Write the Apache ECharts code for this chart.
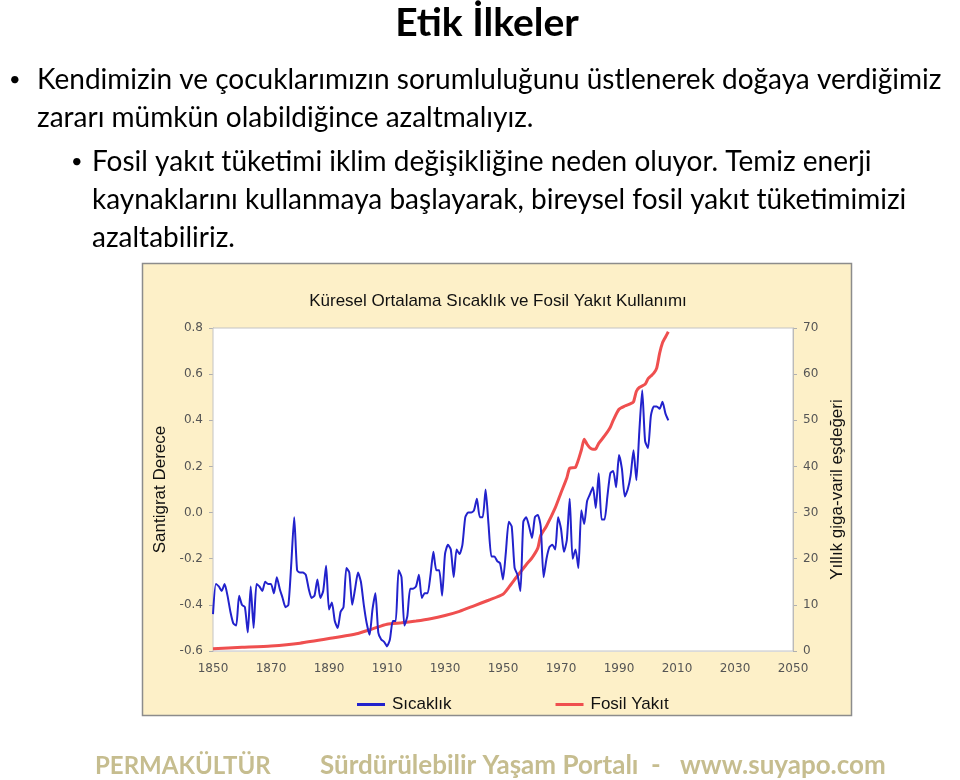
<!DOCTYPE html>
<html>
<head>
<meta charset="utf-8">
<script src="https://cdn.jsdelivr.net/npm/echarts@6/dist/echarts.min.js"></script>
<style>
html,body{margin:0;padding:0;background:#fff;}
#main{width:960px;height:780px;}
</style>
</head>
<body>
<div id="main"></div>
<script>
// ---- data ----
var tempStartYear = 1850;
var tempValues = [
-0.44,-0.31,-0.32,-0.34,-0.31,-0.36,-0.43,-0.48,-0.49,-0.36,
-0.40,-0.41,-0.52,-0.32,-0.50,-0.31,-0.32,-0.34,-0.30,-0.31,
-0.31,-0.35,-0.28,-0.33,-0.37,-0.41,-0.40,-0.22,-0.02,-0.25,
-0.26,-0.26,-0.27,-0.33,-0.37,-0.36,-0.29,-0.37,-0.34,-0.23,
-0.42,-0.39,-0.47,-0.50,-0.43,-0.41,-0.24,-0.26,-0.40,-0.33,
-0.26,-0.30,-0.40,-0.48,-0.53,-0.42,-0.35,-0.52,-0.55,-0.56,
-0.58,-0.55,-0.47,-0.47,-0.25,-0.28,-0.49,-0.45,-0.33,-0.33,
-0.32,-0.27,-0.37,-0.35,-0.35,-0.27,-0.17,-0.25,-0.25,-0.36,
-0.18,-0.14,-0.16,-0.28,-0.16,-0.18,-0.14,-0.02,0.00,0.00,
0.01,0.06,-0.02,-0.02,0.10,-0.05,-0.19,-0.19,-0.21,-0.22,
-0.29,-0.17,-0.04,-0.06,-0.24,-0.27,-0.34,-0.04,-0.02,-0.06,
-0.11,-0.02,-0.01,-0.06,-0.28,-0.20,-0.15,-0.14,-0.16,-0.02,
-0.07,-0.17,-0.12,0.06,-0.20,-0.16,-0.24,0.01,-0.05,0.05,
0.08,0.11,0.02,0.17,-0.03,-0.03,0.07,0.17,0.18,0.11,
0.25,0.19,0.07,0.10,0.16,0.27,0.14,0.35,0.53,0.31,
0.28,0.42,0.46,0.46,0.45,0.48,0.43,0.40
];
var fuelYears = [1850,1860,1870,1880,1890,1900,1905,1910,1915,1920,1925,1930,1935,1940,1945,1950,1952,1955,1958,1960,1962,1963,1965,1968,1970,1972,1973,1975,1977,1978,1979,1980,1981,1982,1983,1985,1987,1988,1990,1992,1994,1995,1996,1997,1999,2000,2001,2002,2003,2004,2005,2006,2007];
var fuelValues = [0.5,0.8,1.1,1.7,2.7,3.8,4.8,5.8,6.1,6.5,7.0,7.7,8.6,9.8,11.0,12.3,13.8,16.3,18.7,20.2,22.3,25.0,27.1,31.0,34.3,37.5,39.6,39.8,43.5,45.9,44.8,44.0,43.7,43.8,45.0,46.6,48.5,50.0,52.4,53.1,53.6,54.0,56.3,57.1,57.8,59.0,59.6,60.2,61.3,64.5,66.8,68.0,69.2];
var xTicks = [1850,1870,1890,1910,1930,1950,1970,1990,2010,2030,2050];
var pageTitle = 'Etik İlkeler';
var bullet1 = ['Kendimizin ve çocuklarımızın sorumluluğunu üstlenerek doğaya verdiğimiz','zararı mümkün olabildiğince azaltmalıyız.'];
var bullet2 = ['Fosil yakıt tüketimi iklim değişikliğine neden oluyor. Temiz enerji','kaynaklarını kullanmaya başlayarak, bireysel fosil yakıt tüketimimizi','azaltabiliriz.'];
var chartTitle = 'Küresel Ortalama Sıcaklık ve Fosil Yakıt Kullanımı';
var leftName = 'Santigrat Derece';
var rightName = 'Yıllık giga-varil eşdeğeri';
var seriesNames = ['Sıcaklık','Fosil Yakıt'];
var footerLeft = 'PERMAKÜLTÜR';
var footerMid = 'Sürdürülebilir Yaşam Portalı  -';
var footerRight = 'www.suyapo.com';

var tempData = tempValues.map(function(v,i){return [tempStartYear+i, v];});
var fuelData = fuelYears.map(function(y,i){return [y, fuelValues[i]];});

var slideFont = 'Lato, "Open Sans", sans-serif';
var chartFont = '"Liberation Sans", Arial, sans-serif';
var tickFont = '"DejaVu Sans", Verdana, sans-serif';

function txt(x, y, s, font, fill, align){
  return {type:'text', x:x, y:y, style:{text:s, font:font, fill:fill||'#000', textAlign:align||'left', textVerticalAlign:'middle'}};
}
var bodyFont = '28px ' + slideFont;
var bulletFont = '20px ' + slideFont;
var graphics = [
  {type:'rect', z:-10, shape:{x:142.5,y:263.5,width:709,height:452}, style:{fill:'#fdf0c8', stroke:'#8c8c8c', lineWidth:1.5}},
  txt(487, 23, pageTitle, 'bold 39px ' + slideFont, '#000', 'center'),
  txt(9, 80, '•', bulletFont),
  txt(37, 80, bullet1[0], bodyFont),
  txt(37, 118, bullet1[1], bodyFont),
  txt(71, 162, '•', bulletFont),
  txt(92, 162, bullet2[0], bodyFont),
  txt(92, 200, bullet2[1], bodyFont),
  txt(92, 238, bullet2[2], bodyFont),
  txt(498, 301, chartTitle, '17px ' + chartFont, '#111', 'center'),
  txt(95, 766, footerLeft, 'bold 24px ' + slideFont, '#c6bd8f'),
  txt(320, 766, footerMid, 'bold 26px ' + slideFont, '#c6bd8f'),
  txt(680, 766, footerRight, 'bold 26px ' + slideFont, '#c6bd8f')
];

var chart = echarts.init(document.getElementById('main'), null, {renderer:'canvas'});
chart.setOption({
  backgroundColor:'#fff',
  animation:false,
  graphic: graphics,
  grid:{left:213, right:167, top:328, bottom:129, show:true, backgroundColor:'#fff', borderColor:'#c4c4c4', borderWidth:1, z:1},
  legend:{
    data:[{name:seriesNames[0]},{name:seriesNames[1]}],
    left:352, top:691, itemWidth:28, itemHeight:3, itemGap:104, icon:'rect',
    textStyle:{fontFamily:chartFont, fontSize:17, color:'#111', padding:[0,0,0,2]}
  },
  xAxis:{
    type:'value', min:1850, max:2050, interval:20,
    axisLine:{show:true, lineStyle:{color:'#b0b0b0'}},
    axisTick:{show:true, length:4, lineStyle:{color:'#b0b0b0'}},
    splitLine:{show:true, lineStyle:{color:'#f0f0f0'}},
    axisLabel:{margin:12, fontFamily:tickFont, fontSize:12, color:'#555', formatter:function(v){return xTicks.indexOf(v)>=0 ? String(v) : '';}}
  },
  yAxis:[
    {type:'value', min:-0.6, max:0.8, interval:0.2, position:'left',
     name:leftName, nameLocation:'middle', nameRotate:90, nameGap:42,
     nameTextStyle:{fontFamily:chartFont, fontSize:17, color:'#111'},
     axisLine:{show:true, lineStyle:{color:'#b0b0b0'}},
     axisTick:{show:true, length:4, lineStyle:{color:'#b0b0b0'}},
     splitLine:{show:true, lineStyle:{color:'#f0f0f0'}},
     axisLabel:{margin:10, fontFamily:tickFont, fontSize:12, color:'#555', formatter:function(v){return v.toFixed(1);}}
    },
    {type:'value', min:0, max:70, interval:10, position:'right',
     name:rightName, nameLocation:'middle', nameRotate:90, nameGap:33,
     nameTextStyle:{fontFamily:chartFont, fontSize:17, color:'#111'},
     axisLine:{show:true, lineStyle:{color:'#b0b0b0'}},
     axisTick:{show:true, length:4, lineStyle:{color:'#b0b0b0'}},
     splitLine:{show:false},
     axisLabel:{margin:10, fontFamily:tickFont, fontSize:12, color:'#555'}
    }
  ],
  series:[
    {name:seriesNames[0], type:'line', yAxisIndex:0, data:tempData, showSymbol:false, smooth:0.2,
     lineStyle:{color:'#2222cc', width:2}, itemStyle:{color:'#2222cc'}, z:3},
    {name:seriesNames[1], type:'line', yAxisIndex:1, data:fuelData, showSymbol:false, smooth:0.2,
     lineStyle:{color:'#ef4f4f', width:3}, itemStyle:{color:'#ef4f4f'}, z:2}
  ]
});
</script>
</body>
</html>
